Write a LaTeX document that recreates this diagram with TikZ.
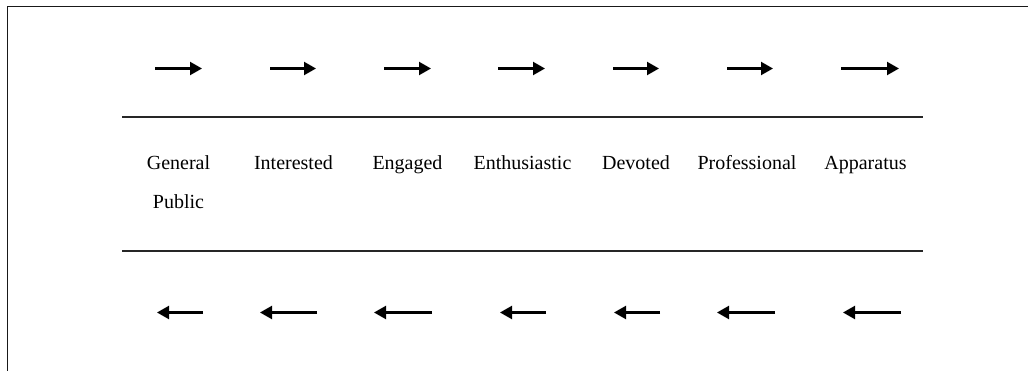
\documentclass[tikz,border=0pt]{standalone}
\usepackage{fontspec}
\setmainfont{Liberation Serif}
\usetikzlibrary{arrows.meta}
\begin{document}
\begin{tikzpicture}[x=1pt,y=-1pt,
  frameline/.style={line width=1.7pt,draw=black!90},
  rule/.style={line width=1.4pt,draw=black!85},
  flow/.style={line width=2.2pt,-{Triangle[length=12pt,width=13pt]}},
  stage/.style={anchor=base,inner sep=0pt,align=center,
    font=\fontsize{20}{39}\selectfont}]
\useasboundingbox (0,0) rectangle (1028,371);
% open frame: top edge and left edge
\coordinate (fa) at (7.5,371);
\coordinate (fb) at (7.5,6.5);
\coordinate (fc) at (1028,6.5);
\draw[frameline] (fa) -- (fb) -- (fc);
% horizontal rules above and below the stage names
\coordinate (r1a) at (122,117);
\coordinate (r1b) at (923,117);
\coordinate (r2a) at (122,251);
\coordinate (r2b) at (923,251);
\draw[rule] (r1a) -- (r1b);
\draw[rule] (r2a) -- (r2b);
% stage names (a two-line node sits on the baseline of its last line)
\node[stage] (s1) at (178.5,209) {General\\Public};
\node[stage] (s2) at (293.5,170) {Interested};
\node[stage] (s3) at (407.5,170) {Engaged};
\node[stage] (s4) at (522.5,170) {Enthusiastic};
\node[stage] (s5) at (636,170) {Devoted};
\node[stage] (s6) at (747,170) {Professional};
\node[stage] (s7) at (865.5,170) {Apparatus};
% forward arrows (top row)
\foreach \i/\a/\b in {1/155/202,2/270/316,3/384/431,4/498/545,5/613/659,6/727/773,7/841/899}{
  \coordinate (fs\i) at (\a,68.5);
  \coordinate (fe\i) at (\b,68.5);
  \draw[flow] (fs\i) -- (fe\i);
}
% backward arrows (bottom row)
\foreach \i/\a/\b in {1/203/157,2/317/260,3/432/374,4/546/500,5/660/614,6/775/717,7/901/843}{
  \coordinate (bs\i) at (\a,312.5);
  \coordinate (be\i) at (\b,312.5);
  \draw[flow] (bs\i) -- (be\i);
}
\end{tikzpicture}
\end{document}
